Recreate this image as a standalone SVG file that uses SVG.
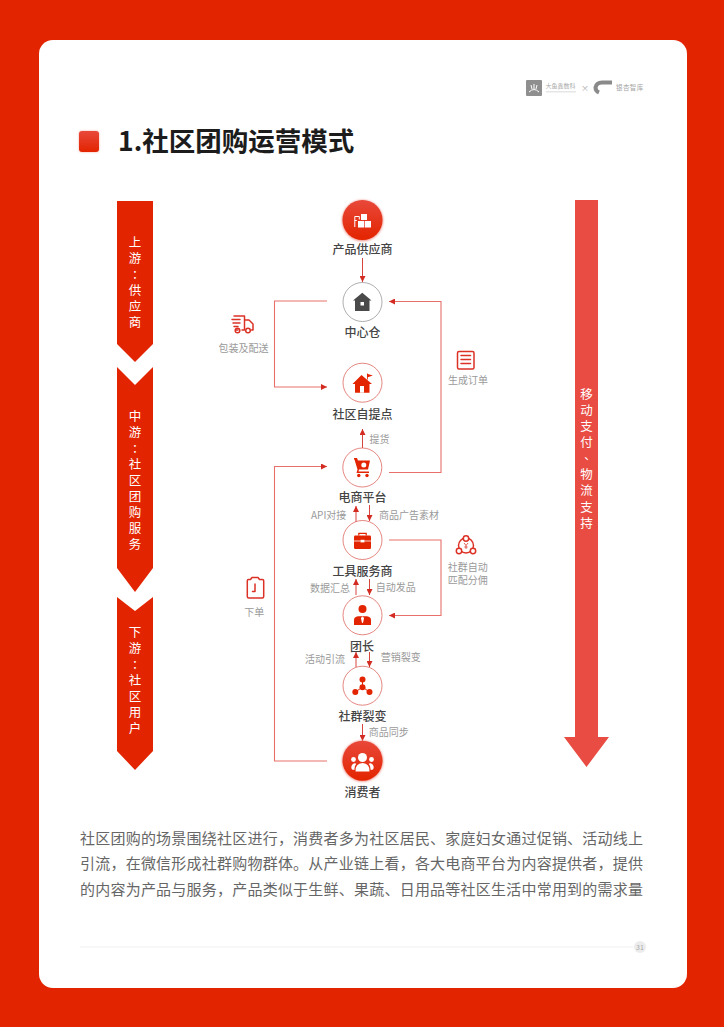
<svg xmlns="http://www.w3.org/2000/svg" width="724" height="1027" viewBox="0 0 724 1027">
<style>
text{font-family:"Noto Sans CJK SC","Noto Sans",sans-serif}
.nl{font-size:12px;font-weight:500;fill:#444;text-anchor:middle}
.sl{font-size:10px;fill:#9a9a9a;text-anchor:middle}
.vt{font-family:"Noto Sans CJK TC","Noto Sans CJK SC",sans-serif;font-size:12.5px;fill:#fff;writing-mode:vertical-rl;text-orientation:upright;letter-spacing:3.6px}
.vc{font-family:"Noto Sans CJK TC","Noto Sans CJK SC",sans-serif;font-size:11.5px;fill:#fff;text-anchor:middle}
.ring{fill:#fff;stroke:#d9534a;stroke-width:.7}
.ln{fill:none;stroke:#d8453c;stroke-width:1}
.lp{fill:none;stroke:#e8706a;stroke-width:1.1}
.ic{fill:#e32400}
.ico{fill:none;stroke:#dc3226;stroke-width:1.5;stroke-linejoin:round;stroke-linecap:round}
.w{fill:#fff}
</style>
<defs>
<linearGradient id="rg" x1="0" y1="0" x2="0" y2="1"><stop offset="0" stop-color="#e8483a"/><stop offset="1" stop-color="#e32400"/></linearGradient>
<filter id="gl" x="-40%" y="-40%" width="180%" height="180%"><feGaussianBlur stdDeviation="1.2"/></filter>
<marker id="a" viewBox="0 0 6 6" refX="6" refY="3" markerWidth="6" markerHeight="6" markerUnits="userSpaceOnUse" orient="auto"><path d="M0 0L6 3L0 6Z" fill="#d32a22"/></marker>
</defs>
<rect width="724" height="1027" fill="#e32400"/>
<rect x="39" y="40" width="648" height="948" rx="14" fill="#fff"/>

<g id="logos">
<rect x="526" y="80" width="16" height="16" rx="1" fill="#8f8f8f"/>
<path d="M534 84v5M531 85l1 4M537 85l-1 4M529 92q5-5 10 0" fill="none" stroke="#fff" stroke-width="1"/>
<text x="545.500" y="88" font-size="6" fill="#aaa">大鱼鑫数科</text>
<rect x="546" y="91" width="30" height="1.500" fill="#e6e6e6"/>
<text x="585" y="91" font-size="8" fill="#aaa" text-anchor="middle">×</text>
<path d="M612 82.500H602q-5.500 0-6.500 5 0 3.500 3.500 5" fill="none" stroke="#8a8a8a" stroke-width="4"/>
<text x="616" y="90" font-size="6.500" fill="#a5a5a5" style="letter-spacing:.4px">银杏智库</text>
</g>

<g id="title">
<rect x="79" y="131" width="20" height="21" rx="3" fill="#e8705f" filter="url(#gl)" opacity=".6"/>
<rect x="79" y="131" width="20" height="21" rx="3" fill="url(#rg)"/>
<text x="118" y="151" font-size="26.500" font-weight="700" fill="#1c1c1c">1.社区团购运营模式</text>
</g>

<g id="stage-up">
<path d="M117 201H153V344L135 362L117 344Z" fill="#e32400"/>
<text class="vt" x="135" y="235.500">上游</text>
<text class="vc" x="135" y="278.500">：</text>
<text class="vt" x="135" y="283.700">供应商</text>
</g>
<g id="stage-mid">
<path d="M117 367L135 385L153 367V568L135 592L117 568Z" fill="#e32400"/>
<text class="vt" x="135" y="409.500">中游</text>
<text class="vc" x="135" y="452.500">：</text>
<text class="vt" x="135" y="457.700">社区团购服务</text>
</g>
<g id="stage-down">
<path d="M117 597L135 611L153 597V751L135 770L117 751Z" fill="#e32400"/>
<text class="vt" x="135" y="625.500">下游</text>
<text class="vc" x="135" y="668.500">：</text>
<text class="vt" x="135" y="673.700">社区用户</text>
</g>

<g id="payment-arrow">
<path d="M575 200H598V737H609L586.500 767L564 737H575Z" fill="#e84c42"/>
<text class="vt" x="586.500" y="388">移动支付</text>
<text class="vc" x="586.500" y="463">、</text>
<text class="vt" x="586.500" y="468.400">物流支持</text>
</g>

<g id="connectors">
<path class="ln" d="M362.500 258V282" marker-end="url(#a)"/>
<path class="lp" d="M327 301H274.500V387H327" marker-end="url(#a)"/>
<path class="lp" d="M389 472.500H441V301.500H389" marker-end="url(#a)"/>
<path class="ln" d="M362.500 448V429" marker-end="url(#a)"/>
<path class="lp" d="M327 761H274.500V466.500H327" marker-end="url(#a)"/>
<path class="ln" d="M356 522V506" marker-end="url(#a)"/>
<path class="ln" d="M369.500 505V521" marker-end="url(#a)"/>
<path class="lp" d="M389 540H441V615.500H389" marker-end="url(#a)"/>
<path class="ln" d="M356 595V579" marker-end="url(#a)"/>
<path class="ln" d="M369.500 579V595" marker-end="url(#a)"/>
<path class="ln" d="M356 667V652" marker-end="url(#a)"/>
<path class="ln" d="M369.500 652V667" marker-end="url(#a)"/>
<path class="ln" d="M362.500 724V741" marker-end="url(#a)"/>
</g>

<g id="supplier">
<circle cx="362.500" cy="220.500" r="20.500" fill="#ee8a80" filter="url(#gl)"/>
<circle cx="362.500" cy="220" r="20" fill="url(#rg)"/>
<path class="w" d="M361 214h6v6h-6ZM358 221h6.300v6.500h-6.300ZM365 221h6v6.500h-6Z"/>
<path d="M354.800 227V216.500h4.500v3M354.800 220.500h2" fill="none" stroke="#fff" stroke-width="1"/>
<text class="nl" x="362.500" y="253.500">产品供应商</text>
</g>
<g id="warehouse">
<circle cx="362.500" cy="302" r="19.500" fill="#fff" stroke="#777" stroke-width=".6"/>
<path d="M362.300 292.700L371.500 300.500H369.500V311H355V300.500H353Z" fill="#4a4a4a"/>
<rect x="360.500" y="302" width="3.500" height="3.500" fill="#fff"/>
<text class="nl" x="362.500" y="336.500">中心仓</text>
</g>
<g id="pickup">
<circle class="ring" cx="362.500" cy="382.700" r="19.500"/>
<path class="ic" d="M361.500 375L372 384H369.500V392.700H355V384H352.500Z"/>
<rect x="360" y="386" width="4" height="6.700" fill="#fff"/>
<path class="ic" d="M367 373.500h.8v6h-.8ZM367.800 374l5 1.500-5 1.800Z"/>
<text class="nl" x="362.500" y="419">社区自提点</text>
</g>
<g id="ecommerce">
<circle class="ring" cx="362.300" cy="467.500" r="19.500"/>
<path class="ic" d="M354 458h3l1 2.500h12l-2 9h-9l-.5 2h10.500v1.500h-12.500l1-3.500-3-10h-.5Z"/>
<circle cx="363.800" cy="465" r="2.500" fill="#fff"/>
<circle class="ic" cx="358.800" cy="475.500" r="1.700"/><circle class="ic" cx="367" cy="475.500" r="1.700"/>
<text class="nl" x="362.500" y="502">电商平台</text>
</g>
<g id="tool-provider">
<circle class="ring" cx="362.500" cy="540" r="19.500"/>
<rect class="ic" x="354" y="535.500" width="17" height="13.500" rx="1.200"/>
<path d="M358.800 535.500V533.300h7.400v2.200" fill="none" stroke="#e32400" stroke-width="1.200"/>
<path d="M354 541h6.500M364.500 541H371" stroke="#fff" stroke-width=".8"/>
<rect x="360.500" y="539.800" width="4" height="2.600" fill="#fff"/>
<text class="nl" x="362.500" y="576">工具服务商</text>
</g>
<g id="leader">
<circle class="ring" cx="362.500" cy="615.300" r="19.500"/>
<circle class="ic" cx="362.500" cy="609" r="4"/>
<path class="ic" d="M354 625v-5q0-3 4-3.700h9q4 .7 4 3.700v5Z"/>
<path class="w" d="M362.500 616.500l1.600 1.500-1 4.500-.6.800-.6-.8-1-4.500Z"/>
<text class="nl" x="362" y="650.500">团长</text>
</g>
<g id="group-fission">
<circle class="ring" cx="362.500" cy="685.700" r="19.500"/>
<path d="M362.500 680V687M362.500 687L355.500 692M362.500 687L369.500 692" stroke="#e32400" stroke-width="1"/>
<circle class="ic" cx="362.500" cy="679.500" r="3"/><circle class="ic" cx="362.500" cy="687.300" r="3"/><circle class="ic" cx="355.300" cy="692" r="3"/><circle class="ic" cx="369.500" cy="692" r="3"/>
<text class="nl" x="362.500" y="721">社群裂变</text>
</g>
<g id="consumer">
<circle cx="362.500" cy="761" r="20.500" fill="#ee8a80" filter="url(#gl)"/>
<circle cx="362.500" cy="760.700" r="20" fill="url(#rg)"/>
<g class="w">
<circle cx="362.500" cy="757.500" r="4.500"/><circle cx="353.500" cy="759.500" r="2.400"/><circle cx="371.500" cy="759.500" r="2.400"/>
<path d="M355.500 771.500q-.5-8 7-8.500 7.500.5 7 8.500Z"/>
<path d="M354.300 770q-3 0-3-2.500 0-3.500 3.500-4.300 1 0 1.500.5-2 2-2 6.300ZM370.700 770q3 0 3-2.500 0-3.500-3.500-4.300-1 0-1.500.5 2 2 2 6.300Z"/>
</g>
<text class="nl" x="362.500" y="796.500">消费者</text>
</g>

<g id="label-delivery">
<path class="ico" d="M234 316h10.500v14h-2.500M238 330h-2M244.500 320h4.500l4 4v6h-1.500M232 319.500h8M233 323h7M234 326.500h4"/>
<circle class="ico" cx="237.500" cy="330.500" r="2.300"/><circle class="ico" cx="248" cy="330.500" r="2.300"/>
<text class="sl" x="243.500" y="351.500">包装及配送</text>
</g>
<g id="label-order">
<rect class="ico" x="457.500" y="351.500" width="16.500" height="17.500" rx="1.500"/>
<path class="ico" d="M461 355.500h9.500M461 359.500h9.500M461 363.500h9.500"/>
<text class="sl" x="468" y="383.800">生成订单</text>
</g>
<text id="label-pickup" class="sl" x="379.500" y="442.800">提货</text>
<text id="label-api" class="sl" x="328.700" y="518.500">API对接</text>
<text id="label-ad" class="sl" x="409" y="518.500">商品广告素材</text>
<g id="label-commission">
<circle class="ico" cx="466" cy="545.500" r="7.500"/>
<circle cx="466" cy="538.500" r="2.700" fill="#fff" stroke="#dc3226" stroke-width="1.500"/><circle cx="459" cy="551" r="2.700" fill="#fff" stroke="#dc3226" stroke-width="1.500"/><circle cx="473" cy="551" r="2.700" fill="#fff" stroke="#dc3226" stroke-width="1.500"/>
<path d="M464 543l2 2.500 2-2.500M466 545.500v3.500M464.300 547h3.400" fill="none" stroke="#dc3226" stroke-width=".8"/>
<text class="sl" x="467.700" y="570.500">社群自动</text>
<text class="sl" x="467.700" y="583.800">匹配分佣</text>
</g>
<text id="label-data" class="sl" x="330" y="591.800">数据汇总</text>
<text id="label-ship" class="sl" x="395.700" y="590.800">自动发品</text>
<g id="label-place-order">
<path class="ico" d="M250.500 579.500h-2q-1.200 0-1.200 1.200v15.800q0 1.500 1.500 1.500h13.400q1.500 0 1.500-1.500V580.700q0-1.200-1.200-1.200h-2M250.500 579.500l1.500-2h6l1.500 2"/>
<path class="ico" d="M255 584v7.500h-2.500"/>
<text class="sl" x="254.300" y="615.500">下单</text>
</g>
<text id="label-traffic" class="sl" x="325" y="662.800">活动引流</text>
<text id="label-marketing" class="sl" x="400.700" y="661">营销裂变</text>
<text id="label-sync" class="sl" x="388.700" y="735.500">商品同步</text>

<g id="body" font-size="15" fill="#666">
<text x="80" y="843.500" textLength="563">社区团购的场景围绕社区进行，消费者多为社区居民、家庭妇女通过促销、活动线上</text>
<text x="80" y="869" textLength="563">引流，在微信形成社群购物群体。从产业链上看，各大电商平台为内容提供者，提供</text>
<text x="80" y="894.500" textLength="563">的内容为产品与服务，产品类似于生鲜、果蔬、日用品等社区生活中常用到的需求量</text>
</g>

<g id="footer">
<path d="M80 947H633" stroke="#f0f0f0" stroke-width="1"/>
<circle cx="640" cy="947" r="6" fill="#ececec"/>
<text x="640" y="949.500" font-size="7" fill="#aaa" text-anchor="middle">31</text>
</g>
</svg>
